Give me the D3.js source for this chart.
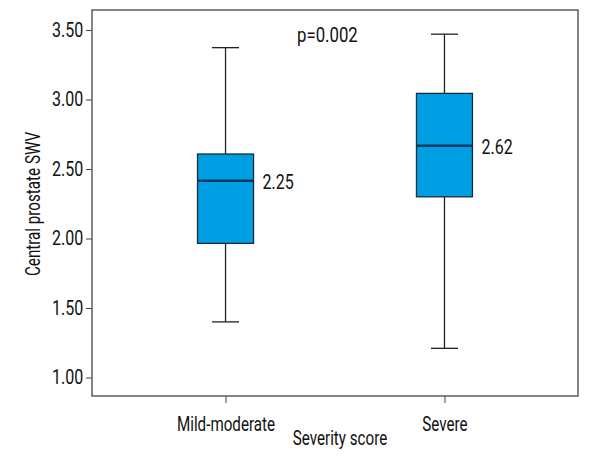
<!DOCTYPE html>
<html><head><meta charset="utf-8">
<script src="https://cdn.jsdelivr.net/npm/d3@7"></script>
<style>
body{margin:0;background:#fff;}
text{font-family:Roboto,"Liberation Sans",sans-serif;fill:#111;}
</style></head>
<body><svg id="c" width="600" height="460"></svg>
<script>
const categories = ["Mild-moderate", "Severe"];
const whiskerLow = [1.40, 1.21];
const q1 = [1.965, 2.30];
const median = [2.415, 2.668];
const q3 = [2.608, 3.044];
const whiskerHigh = [3.373, 3.47];
const meanLabels = ["2.25", "2.62"];
const yTicks = [1.00, 1.50, 2.00, 2.50, 3.00, 3.50];
const pText = "p=0.002";

const FS = "20px", SXW = 0.76, SXN = 0.8;
const svg = d3.select("#c");
const L = 92, R = 578, T = 10, B = 396;
const y = d3.scaleLinear().domain([0.867, 3.644]).range([B, T]);
const x = d3.scalePoint().domain(categories).range([L, R]).padding(0.61);

function label(px, py, txt, anchor, rot, sx) {
  return svg.append("text")
    .attr("transform", `translate(${px},${py})` + (rot ? ` rotate(${rot})` : "") + ` scale(${sx},1)`)
    .attr("dy", "0.35em").attr("text-anchor", anchor || "start")
    .style("font-size", FS).text(txt);
}

// frame
svg.append("rect").attr("x", L).attr("y", T).attr("width", R - L).attr("height", B - T)
  .attr("fill", "none").attr("stroke", "#444").attr("stroke-width", 1.3);

// y axis
const ya = svg.append("g").attr("transform", `translate(${L},0)`)
  .call(d3.axisLeft(y).tickValues(yTicks).tickFormat(d3.format(".2f")).tickSize(6).tickPadding(5));
ya.select(".domain").remove();
ya.selectAll("line").attr("stroke", "#444");
ya.selectAll("text").style("font-size", FS).attr("fill", "#111").attr("transform", `scale(${SXN},1)`);

// x axis
const xa = svg.append("g").attr("transform", `translate(0,${B})`)
  .call(d3.axisBottom(x).tickSize(7).tickPadding(14));
xa.select(".domain").remove();
xa.selectAll("line").attr("stroke", "#444");
xa.selectAll("text").style("font-size", FS).attr("fill", "#111").attr("transform", `scale(${SXW},1)`);

const bw = 56, cw = 27;
const g = svg.append("g");
categories.forEach((c, i) => {
  const cx = x(c);
  const st = (sel) => sel.attr("stroke", "#222").attr("stroke-width", 1.3);
  st(g.append("line").attr("x1", cx).attr("x2", cx).attr("y1", y(whiskerHigh[i])).attr("y2", y(q3[i])));
  st(g.append("line").attr("x1", cx).attr("x2", cx).attr("y1", y(q1[i])).attr("y2", y(whiskerLow[i])));
  st(g.append("line").attr("x1", cx - cw / 2).attr("x2", cx + cw / 2).attr("y1", y(whiskerHigh[i])).attr("y2", y(whiskerHigh[i])));
  st(g.append("line").attr("x1", cx - cw / 2).attr("x2", cx + cw / 2).attr("y1", y(whiskerLow[i])).attr("y2", y(whiskerLow[i])));
  g.append("rect").attr("x", cx - bw / 2).attr("y", y(q3[i])).attr("width", bw).attr("height", y(q1[i]) - y(q3[i]))
    .attr("fill", "#009ee2").attr("stroke", "#1a2a3a").attr("stroke-width", 1.3);
  g.append("line").attr("x1", cx - bw / 2).attr("x2", cx + bw / 2).attr("y1", y(median[i])).attr("y2", y(median[i])).attr("stroke", "#0b3760").attr("stroke-width", 2.5);
  label(cx + bw / 2 + 9, y(median[i]) + 1, meanLabels[i], "start", 0, SXN);
});

label(297, 35, pText, "start", 0, 0.84);
label(340, 438, "Severity score", "middle", 0, SXW);
label(33, 204, "Central prostate SWV", "middle", -90, SXW);
</script></body></html>
